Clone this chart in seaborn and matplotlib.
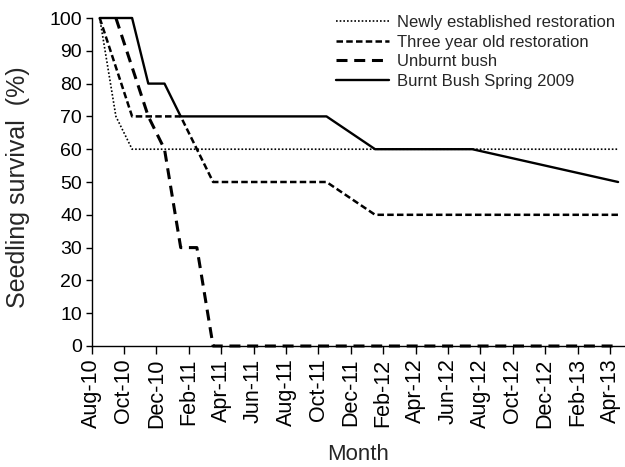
import matplotlib
matplotlib.use("Agg")
import matplotlib.pyplot as plt
import seaborn as sns

# Month axis: positions are months elapsed since August 2010
tick_positions = list(range(0, 33, 2))
tick_labels = ["Aug-10", "Oct-10", "Dec-10", "Feb-11", "Apr-11", "Jun-11",
               "Aug-11", "Oct-11", "Dec-11", "Feb-12", "Apr-12", "Jun-12",
               "Aug-12", "Oct-12", "Dec-12", "Feb-13", "Apr-13"]

series_names = ["Newly established restoration", "Three year old restoration",
                "Unburnt bush", "Burnt Bush Spring 2009"]

newly_month = [0.5, 1.5, 2.5, 32.5]
newly_survival = [100, 70, 60, 60]

three_year_month = [0.5, 2.5, 5.5, 7.5, 14.5, 17.5, 32.5]
three_year_survival = [100, 70, 70, 50, 50, 40, 40]

unburnt_month = [1.5, 2.5, 3.5, 4.5, 5.5, 6.5, 7.5, 32.5]
unburnt_survival = [100, 85, 70, 60, 30, 30, 0, 0]

burnt_month = [0.5, 2.5, 3.5, 4.5, 5.5, 14.5, 17.5, 23.5, 32.5]
burnt_survival = [100, 100, 80, 80, 70, 70, 60, 60, 50]

sns.set_style("ticks")
plt.rcParams["font.family"] = ["Liberation Sans", "DejaVu Sans"]

W, H = 625, 467
fig = plt.figure(figsize=(W / 100, H / 100), dpi=100)
ax_left, ax_right, ax_top, ax_bottom = 91.6, 624, 18, 346
ax = fig.add_axes([ax_left / W, 1 - ax_bottom / H,
                   (ax_right - ax_left) / W, (ax_bottom - ax_top) / H])

line_styles = [
    (newly_month, newly_survival, 1.2, (0, (1.0, 1.2))),
    (three_year_month, three_year_survival, 1.8, (0, (2.6, 1.3))),
    (unburnt_month, unburnt_survival, 2.2, (0, (3.6, 2.2))),
    (burnt_month, burnt_survival, 1.7, "-"),
]

for name, (mx, sy, lw, ls) in zip(series_names, line_styles):
    sns.lineplot(x=mx, y=sy, ax=ax, color="black", linewidth=lw,
                 linestyle=ls, label=name, sort=False, estimator=None)
    ax.lines[-1].set_clip_on(False)
    ax.lines[-1].set_zorder(3)

ax.set_xlim(0, (ax_right - ax_left) / 16.2)
ax.set_ylim(0, 100)
ax.set_yticks(range(0, 101, 10))
ax.set_xticks(tick_positions, tick_labels, rotation=90)

for side in ("top", "right"):
    ax.spines[side].set_visible(False)
for side in ("left", "bottom"):
    ax.spines[side].set_color("black")
    ax.spines[side].set_linewidth(1.0)

ax.tick_params(axis="x", length=6, width=1.0, direction="out", pad=3,
               labelsize=15.5, colors="black")
ax.tick_params(axis="y", length=4, width=1.0, direction="out", pad=3,
               labelsize=14, colors="black")

ax.set_xlabel("Month", fontsize=16)
ax.xaxis.set_label_coords(0.5, -0.3)
ax.set_ylabel("Seedling survival  (%)", fontsize=18)
ax.yaxis.set_label_coords(-0.116, 0.485)

ax.legend(loc="upper left", bbox_to_anchor=(336 / W, 0.968),
          bbox_transform=fig.transFigure, frameon=False, fontsize=12,
          handlelength=3.2, handletextpad=0.45, labelspacing=0.28,
          borderpad=0, borderaxespad=0)

fig.savefig("out.png", dpi=100)
